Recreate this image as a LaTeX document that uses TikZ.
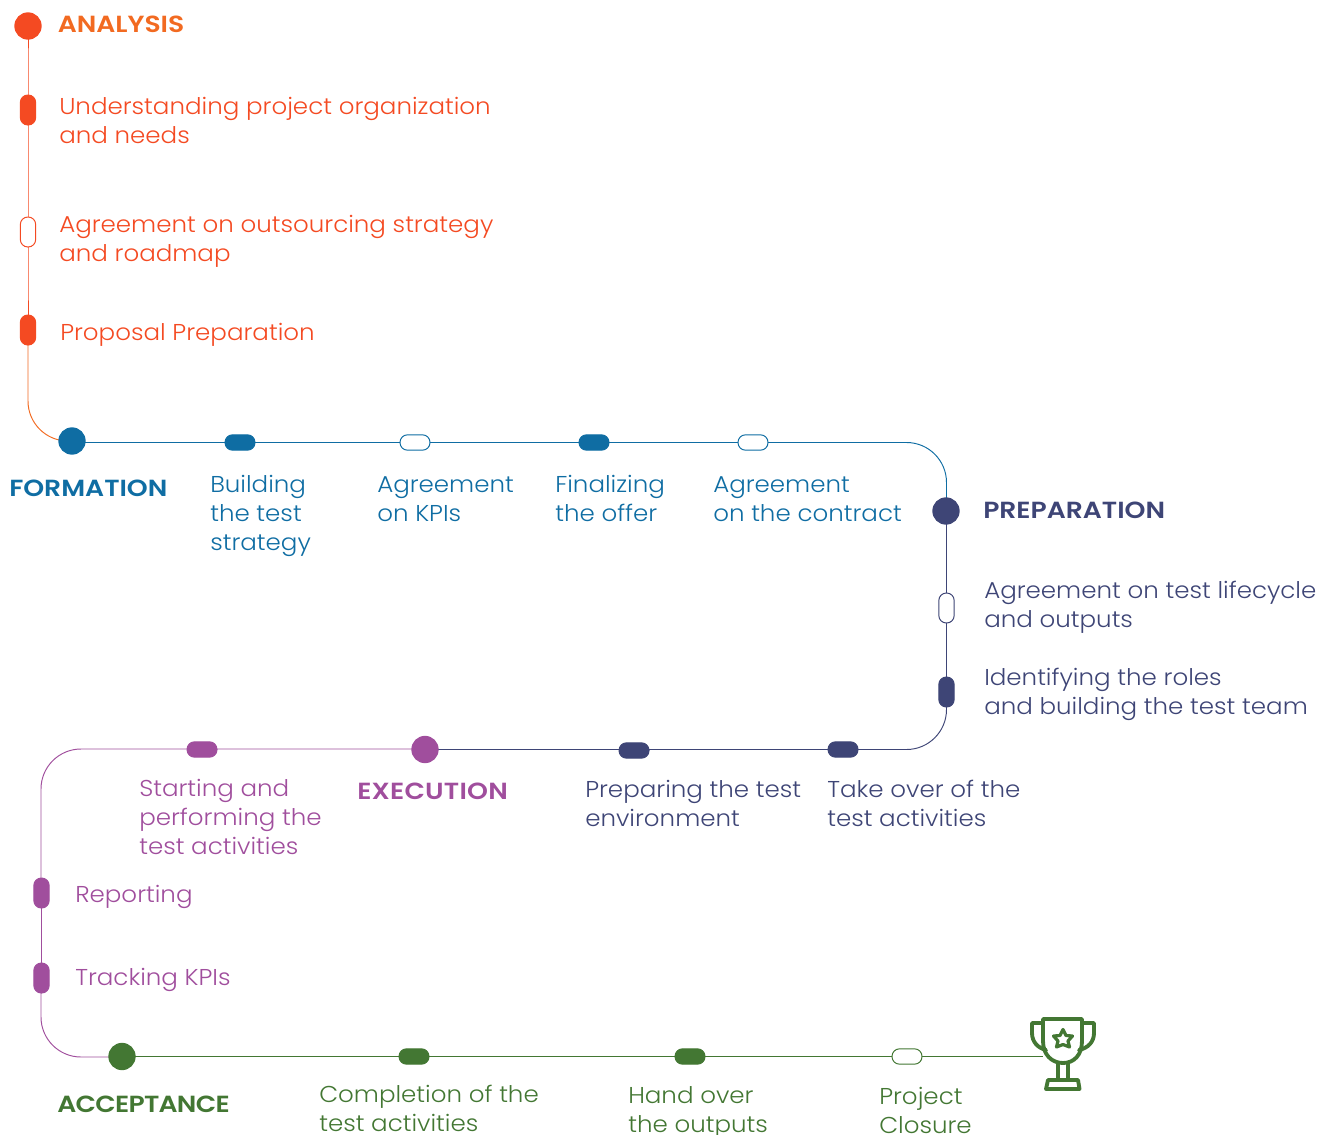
\documentclass[tikz,border=0pt]{standalone}
\usepackage{fontspec}
\setmainfont[FakeStretch=1.07]{Poppins Light}
\newfontfamily\headfont[FakeStretch=1.14]{Poppins SemiBold}
\usetikzlibrary{backgrounds,shapes.geometric}
\definecolor{cOr}{HTML}{F44A22}
\definecolor{cOh}{HTML}{F26A21}
\definecolor{cBl}{HTML}{0F6DA3}
\definecolor{cNa}{HTML}{3E4576}
\definecolor{cPu}{HTML}{A04E9D}
\definecolor{cGr}{HTML}{437733}
\tikzset{
  x=0.75pt,y=-0.75pt,
  dotnode/.style={circle,fill=#1,draw=none,minimum size=20.5pt,inner sep=0pt},
  hpill/.style={rectangle,rounded corners=5.6pt,minimum width=22.5pt,minimum height=11.5pt,inner sep=0pt,draw=#1,line width=0.75pt,fill=#1},
  vpill/.style={rectangle,rounded corners=5.6pt,minimum width=11.5pt,minimum height=22.5pt,inner sep=0pt,draw=#1,line width=0.75pt,fill=#1},
  hopen/.style={hpill=#1,fill=white},
  vopen/.style={vpill=#1,fill=white},
  lab/.style={anchor=base west,inner sep=0pt,align=left,text=#1,font=\fontsize{17.2}{21.75}\selectfont},
  head/.style={anchor=base west,inner sep=0pt,text=#1,font=\fontsize{17.5}{21.9}\headfont},
  route/.style={draw=#1,line width=0.72pt,rounded corners=30pt},
}
\begin{document}
\begin{tikzpicture}
\useasboundingbox (0,0) rectangle (1329,1135);
\clip (0,0) rectangle (1329,1135);
% analysis
\node[dotnode=cOr] (analysis) at (28,26) {};
\node[vpill=cOr] (a1) at (28,110) {};
\node[vopen=cOr] (a2) at (28,232) {};
\node[vpill=cOr] (a3) at (28,330) {};
\node[head=cOh] (ta) at (57.5,32) {ANALYSIS};
\node[lab=cOr] (ta1) at (59,143.5) {Understanding project organization\\and needs};
\node[lab=cOr] (ta2) at (59,261) {Agreement on outsourcing strategy\\and roadmap};
\node[lab=cOr] (ta3) at (60,340) {Proposal Preparation};
% formation
\node[dotnode=cBl] (formation) at (72,441) {};
\node[hpill=cBl] (f1) at (240,442.5) {};
\node[hopen=cBl] (f2) at (415,442.5) {};
\node[hpill=cBl] (f3) at (594,442.5) {};
\node[hopen=cBl] (f4) at (753,442.5) {};
\coordinate (fline) at (72,442.5);
\node[head=cBl] (tf) at (9,496) {FORMATION};
\node[lab=cBl] (tf1) at (210,550) {Building\\the test\\strategy};
\node[lab=cBl] (tf2) at (377,521) {Agreement\\on KPIs};
\node[lab=cBl] (tf3) at (555,521) {Finalizing\\the offer};
\node[lab=cBl] (tf4) at (713,521) {Agreement\\on the contract};
% preparation
\node[dotnode=cNa] (preparation) at (946,511) {};
\coordinate (pline) at (946.5,511);
\node[vopen=cNa] (p1) at (946.5,608) {};
\node[vpill=cNa] (p2) at (946.5,692) {};
\node[hpill=cNa] (p3) at (843,749.5) {};
\node[hpill=cNa] (p4) at (634,750.5) {};
\coordinate (xline) at (425,749.5);
\coordinate (p4line) at (634,749.5);
\node[head=cNa] (tp) at (983,518) {PREPARATION};
\node[lab=cNa] (tp1) at (984,627.5) {Agreement on test lifecycle\\and outputs};
\node[lab=cNa] (tp2) at (984,714.5) {Identifying the roles\\and building the test team};
\node[lab=cNa] (tp3) at (827,826) {Take over of the\\test activities};
\node[lab=cNa] (tp4) at (585,826) {Preparing the test\\environment};
% execution
\node[dotnode=cPu] (execution) at (425,749.5) {};
\node[hpill=cPu] (e1) at (202,749.5) {};
\node[vpill=cPu] (e2) at (41.5,893) {};
\node[vpill=cPu] (e3) at (41.5,978) {};
\coordinate (e2line) at (41,893);
\coordinate (e3line) at (41,978);
\coordinate (e1line) at (202,749);
\coordinate (eline) at (425,749);
\node[head=cPu] (te) at (357,799) {\addfontfeature{LetterSpace=1}EXECUTION};
\node[lab=cPu] (te1) at (139,854.5) {Starting and\\performing the\\test activities};
\node[lab=cPu] (te2) at (75,902) {Reporting};
\node[lab=cPu] (te3) at (75,985) {Tracking KPIs};
% acceptance
\node[dotnode=cGr] (acceptance) at (122,1056.5) {};
\node[hpill=cGr] (c1) at (414,1056.5) {};
\node[hpill=cGr] (c2) at (690,1056.5) {};
\node[hopen=cGr] (c3) at (907,1056.5) {};
\coordinate (trophy) at (1043,1056.5);
\coordinate (cline) at (122,1057);
\node[head=cGr] (tc) at (57,1112) {\addfontfeature{LetterSpace=-3}ACCEPTANCE};
\node[lab=cGr] (tc1) at (319,1131.5) {Completion of the\\test activities};
\node[lab=cGr] (tc2) at (628,1132.5) {Hand over\\the outputs};
\node[lab=cGr] (tc3) at (879,1133.5) {Project\\Closure};
% connectors
\begin{scope}[on background layer]
\draw[route=cOr] (analysis.center) -- (a1.center) -- (a2.center) -- (a3.center);
\draw[route=cOh] (a3.center) |- (formation.center);
\draw[route=cBl] (fline) -- (f1.center) -- (f2.center) -- (f3.center) -- (f4.center);
\draw[route=cBl] (f4.center) -| (pline);
\draw[route=cNa] (pline) -- (p1.center) -- (p2.center);
\draw[route=cNa] (p2.center) |- (p3.center);
\draw[route=cNa] (p3.center) -- (p4line) -- (xline);
\draw[route=cPu] (eline) -- (e1line) -| (e2line);
\draw[route=cPu] (e2line) -- (e3line);
\draw[route=cPu] (e3line) |- (cline);
\draw[route=cGr] (acceptance.center) -- (c1.center) -- (c2.center) -- (c3.center) -- (trophy);
\end{scope}
% trophy
\begin{scope}[draw=cGr,line width=2.9pt,line join=round,line cap=round]
\draw (1043,1019) -- (1082,1019) -- (1082,1041) .. controls (1082,1055) and (1074,1063) .. (1063,1063) .. controls (1052,1063) and (1043,1055) .. (1043,1041) -- cycle;
\draw (1043,1023) -- (1032,1023) -- (1032,1033) .. controls (1032,1042) and (1038,1048) .. (1046,1050);
\draw (1082,1023) -- (1094,1023) -- (1094,1033) .. controls (1094,1042) and (1088,1048) .. (1079,1050);
\draw (1058,1063) -- (1058,1080) (1068,1063) -- (1068,1080);
\draw (1048,1080) -- (1078,1080) -- (1079.5,1089) -- (1046,1089) -- cycle;
\draw[line width=2.4pt] (1063,1029.5) -- (1066,1035.5) -- (1072.5,1036) -- (1068,1041) -- (1069.5,1047) -- (1063,1044.5) -- (1056.5,1047) -- (1058,1041) -- (1053.5,1036) -- (1060,1035.5) -- cycle;
\end{scope}
\end{tikzpicture}
\end{document}
